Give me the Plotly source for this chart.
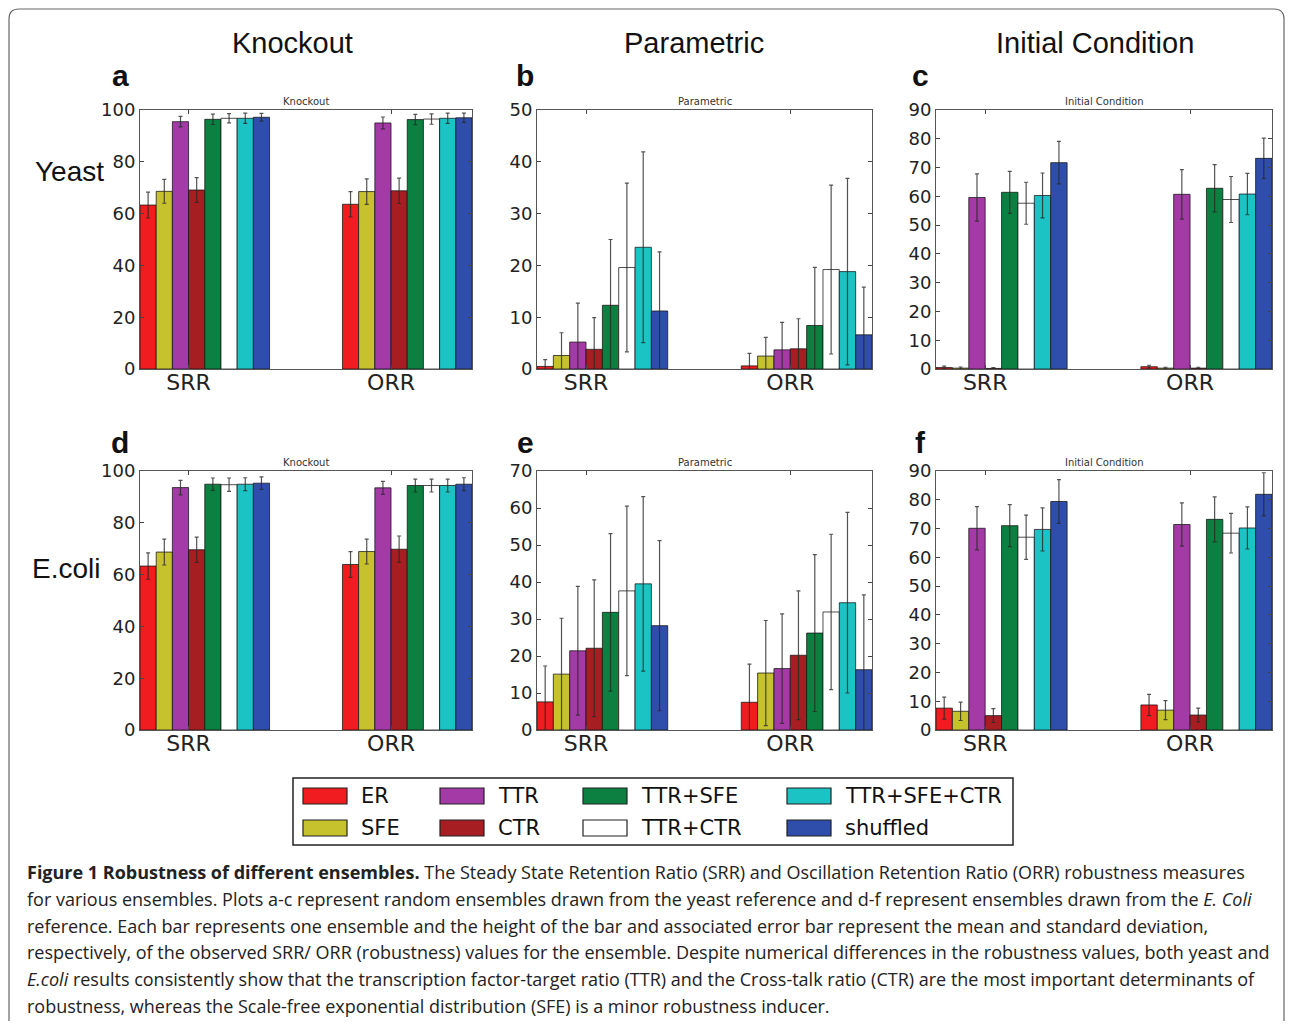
import plotly.graph_objects as go

# figure size chosen so that the page (with the browser's 8px body margin) fits the window
FIG_W, FIG_H = 1277, 1013
OX, OY = 8, 8  # where the figure's top-left corner lands in the window

series = ["ER", "SFE", "TTR", "CTR", "TTR+SFE", "TTR+CTR", "TTR+SFE+CTR", "shuffled"]
colors = ["#f01c20", "#c6c22e", "#a33aa6", "#a61e22", "#0b8040", "#ffffff", "#1cc3c5", "#2f4eab"]
groups = ["SRR", "ORR"]

# Yeast – Knockout (a)
yeast_ko_srr = [63.3, 68.6, 95.5, 69.1, 96.4, 96.8, 96.8, 97.2]
yeast_ko_srr_err = [5.0, 4.6, 2.0, 4.8, 2.0, 1.8, 2.0, 1.5]
yeast_ko_orr = [63.6, 68.5, 95.0, 68.8, 96.3, 96.5, 96.8, 97.0]
yeast_ko_orr_err = [4.9, 4.9, 2.3, 4.9, 2.0, 2.0, 2.0, 1.8]

# Yeast – Parametric (b)
yeast_par_srr = [0.5, 2.6, 5.2, 3.8, 12.3, 19.6, 23.5, 11.2]
yeast_par_srr_err = [1.3, 4.4, 7.5, 6.1, 12.7, 16.3, 18.4, 11.4]
yeast_par_orr = [0.6, 2.5, 3.7, 3.9, 8.4, 19.2, 18.8, 6.6]
yeast_par_orr_err = [2.4, 3.6, 5.3, 5.8, 11.2, 16.3, 18.0, 9.2]

# Yeast – Initial Condition (c)
yeast_ic_srr = [0.5, 0.3, 59.6, 0.2, 61.4, 57.6, 60.3, 71.7]
yeast_ic_srr_err = [0.5, 0.4, 8.2, 0.3, 7.3, 7.3, 7.8, 7.4]
yeast_ic_orr = [0.8, 0.3, 60.7, 0.3, 62.8, 58.9, 60.8, 73.2]
yeast_ic_orr_err = [0.5, 0.3, 8.6, 0.3, 8.2, 8.0, 7.2, 7.0]

# E.coli – Knockout (d)
ecoli_ko_srr = [63.3, 68.7, 93.6, 69.6, 94.9, 94.7, 94.9, 95.3]
ecoli_ko_srr_err = [5.1, 5.0, 2.8, 4.9, 2.4, 2.6, 2.5, 2.4]
ecoli_ko_orr = [63.9, 68.9, 93.5, 69.8, 94.4, 94.4, 94.4, 94.9]
ecoli_ko_orr_err = [5.0, 4.8, 2.5, 5.1, 2.5, 2.5, 2.5, 2.5]

# E.coli – Parametric (e)
ecoli_par_srr = [7.6, 15.1, 21.4, 22.1, 31.8, 37.6, 39.5, 28.2]
ecoli_par_srr_err = [9.7, 15.1, 17.4, 18.5, 21.3, 22.9, 23.6, 23.0]
ecoli_par_orr = [7.5, 15.4, 16.6, 20.2, 26.2, 31.9, 34.4, 16.3]
ecoli_par_orr_err = [10.3, 14.2, 14.8, 17.4, 21.2, 21.0, 24.4, 20.2]

# E.coli – Initial Condition (f)
ecoli_ic_srr = [7.6, 6.5, 70.1, 5.0, 71.0, 67.0, 69.7, 79.4]
ecoli_ic_srr_err = [3.8, 3.2, 7.5, 2.4, 7.3, 7.7, 7.5, 7.6]
ecoli_ic_orr = [8.7, 6.9, 71.4, 5.2, 73.2, 68.4, 70.2, 81.9]
ecoli_ic_orr_err = [3.7, 3.3, 7.5, 2.4, 7.8, 6.9, 7.3, 7.5]

panel_titles = ["Knockout", "Parametric", "Initial Condition"]
row_labels = ["Yeast", "E.coli"]
panel_letters = ["a", "b", "c", "d", "e", "f"]
y_max = [100, 50, 90, 100, 70, 90]
y_step = [20, 10, 10, 20, 10, 10]

caption_lines = [
    "<b>Figure 1 Robustness of different ensembles.</b> The Steady State Retention Ratio (SRR) and Oscillation Retention Ratio (ORR) robustness measures",
    "for various ensembles. Plots a-c represent random ensembles drawn from the yeast reference and d-f represent ensembles drawn from the <i>E. Coli</i>",
    "reference. Each bar represents one ensemble and the height of the bar and associated error bar represent the mean and standard deviation,",
    "respectively, of the observed SRR/ ORR (robustness) values for the ensemble. Despite numerical differences in the robustness values, both yeast and",
    "<i>E.coli</i> results consistently show that the transcription factor-target ratio (TTR) and the Cross-talk ratio (CTR) are the most important determinants of",
    "robustness, whereas the Scale-free exponential distribution (SFE) is a minor robustness inducer.",
]

panels = [
    (yeast_ko_srr, yeast_ko_srr_err, yeast_ko_orr, yeast_ko_orr_err),
    (yeast_par_srr, yeast_par_srr_err, yeast_par_orr, yeast_par_orr_err),
    (yeast_ic_srr, yeast_ic_srr_err, yeast_ic_orr, yeast_ic_orr_err),
    (ecoli_ko_srr, ecoli_ko_srr_err, ecoli_ko_orr, ecoli_ko_orr_err),
    (ecoli_par_srr, ecoli_par_srr_err, ecoli_par_orr, ecoli_par_orr_err),
    (ecoli_ic_srr, ecoli_ic_srr_err, ecoli_ic_orr, ecoli_ic_orr_err),
]

# ---- layout geometry in window pixels ----
col_px = [(140, 472), (537, 872), (936, 1272)]
row_px = [(110, 369), (471, 730)]
bw = 0.08  # bar width in axis units


def fx(x):
    return (x - OX) / FIG_W


def fy(y):
    return 1 - (y - OY) / FIG_H


fig = go.Figure()
layout = dict(
    width=FIG_W, height=FIG_H, margin=dict(l=0, r=0, t=0, b=0, pad=0, autoexpand=False),
    paper_bgcolor="white", plot_bgcolor="white", barmode="overlay",
    showlegend=False, font=dict(family="DejaVu Sans", color="#222"),
)
annotations = []
shapes = []

for p in range(6):
    r, c = divmod(p, 3)
    srr, srr_e, orr, orr_e = panels[p]
    ax = "" if p == 0 else str(p + 1)
    for i, name in enumerate(series):
        fig.add_trace(go.Bar(
            x=[g + i * bw + bw / 2 for g in range(len(groups))],
            y=[srr[i], orr[i]], width=bw, name=name,
            marker=dict(color=colors[i], line=dict(color="rgba(20,20,20,0.75)", width=1)),
            error_y=dict(type="data", array=[srr_e[i], orr_e[i]], color="rgba(40,40,40,0.8)",
                         thickness=1.2, width=2),
            xaxis="x" + ax, yaxis="y" + ax, showlegend=False,
        ))
    x0, x1 = col_px[c]
    y0, y1 = row_px[r]
    layout["xaxis" + ax] = dict(
        domain=[fx(x0), fx(x1)], anchor="y" + ax, range=[0, len(groups) - 1 + 8 * bw],
        tickmode="array", tickvals=[g + 3 * bw for g in range(len(groups))], ticktext=groups,
        ticks="inside", ticklen=4, tickcolor="#444", mirror="allticks", showline=True,
        linecolor="#555", linewidth=1, showgrid=False, zeroline=False, automargin=False,
        ticklabelstandoff=-6,
        tickfont=dict(size=22, family="DejaVu Sans", color="#222"), fixedrange=True,
    )
    layout["yaxis" + ax] = dict(
        domain=[fy(y1), fy(y0)], anchor="x" + ax, range=[0, y_max[p]], dtick=y_step[p],
        tick0=0, ticks="inside", ticklen=4, tickcolor="#444", mirror="allticks",
        showline=True, linecolor="#555", linewidth=1, showgrid=False, zeroline=False,
        automargin=False,
        tickfont=dict(size=18, family="DejaVu Sans", color="#222"), fixedrange=True,
    )
    # small subplot title
    annotations.append(dict(
        x=fx((x0 + x1) / 2), y=fy(y0 - 8), xref="paper", yref="paper", text=panel_titles[c],
        showarrow=False, font=dict(size=10, family="DejaVu Sans", color="#333"),
        xanchor="center", yanchor="middle"))
    # panel letter
    letter_x = [120, 525, 920][c]
    letter_y = [75, 442][r]
    annotations.append(dict(
        x=fx(letter_x), y=fy(letter_y), xref="paper", yref="paper",
        text="<b>" + panel_letters[p] + "</b>", showarrow=False,
        font=dict(size=30, family="Liberation Sans, Arial", color="#111"),
        xanchor="center", yanchor="middle"))

# column headers
for c, t in enumerate(panel_titles):
    annotations.append(dict(
        x=fx([292, 694, 1095][c]), y=fy(43), xref="paper", yref="paper", text=t,
        showarrow=False, font=dict(size=29, family="Liberation Sans, Arial", color="#111"),
        xanchor="center", yanchor="middle"))

# row labels
for r, t in enumerate(row_labels):
    annotations.append(dict(
        x=fx([69, 66][r]), y=fy([172, 568][r]), xref="paper", yref="paper", text=t,
        showarrow=False, font=dict(size=28, family="Liberation Sans, Arial", color="#111"),
        xanchor="center", yanchor="middle"))

# legend (matplotlib-style, 4 columns x 2 rows)
shapes.append(dict(type="rect", xref="paper", yref="paper", x0=fx(293), x1=fx(1013),
                   y0=fy(845), y1=fy(778), line=dict(color="#222", width=1.5),
                   fillcolor="rgba(0,0,0,0)"))
leg_cols = [303, 440, 583, 787]
leg_rows = [796, 828]
for i, name in enumerate(series):
    cc, rr = divmod(i, 2)
    sx, sy = leg_cols[cc], leg_rows[rr]
    shapes.append(dict(type="rect", xref="paper", yref="paper", x0=fx(sx), x1=fx(sx + 44),
                       y0=fy(sy + 8), y1=fy(sy - 8), fillcolor=colors[i],
                       line=dict(color="#222", width=1.2)))
    annotations.append(dict(
        x=fx(sx + 56), y=fy(sy), xref="paper", yref="paper", text=name, showarrow=False,
        font=dict(size=21, family="DejaVu Sans", color="#111"), xanchor="left", yanchor="middle"))

# caption
cap_y = [872, 899, 926, 952, 979, 1006]
for t, yy in zip(caption_lines, cap_y):
    annotations.append(dict(
        x=fx(25), y=fy(yy), xref="paper", yref="paper", text=t, showarrow=False,
        font=dict(size=18, family="Open Sans", color="#222"),
        xanchor="left", yanchor="middle"))

# outer rounded frame (open at the bottom, where the page is cut)
rad = 10
L, T, R = 9, 9, 1284
B = OY + FIG_H
path = (f"M {fx(L)},{fy(B)} L {fx(L)},{fy(T + rad)} Q {fx(L)},{fy(T)} {fx(L + rad)},{fy(T)} "
        f"L {fx(R - rad)},{fy(T)} Q {fx(R)},{fy(T)} {fx(R)},{fy(T + rad)} "
        f"L {fx(R)},{fy(B)}")
shapes.append(dict(type="path", xref="paper", yref="paper", path=path,
                   line=dict(color="#666", width=1.2)))

layout["annotations"] = annotations
layout["shapes"] = shapes
fig.update_layout(**layout)
fig.write_html("out.html")
